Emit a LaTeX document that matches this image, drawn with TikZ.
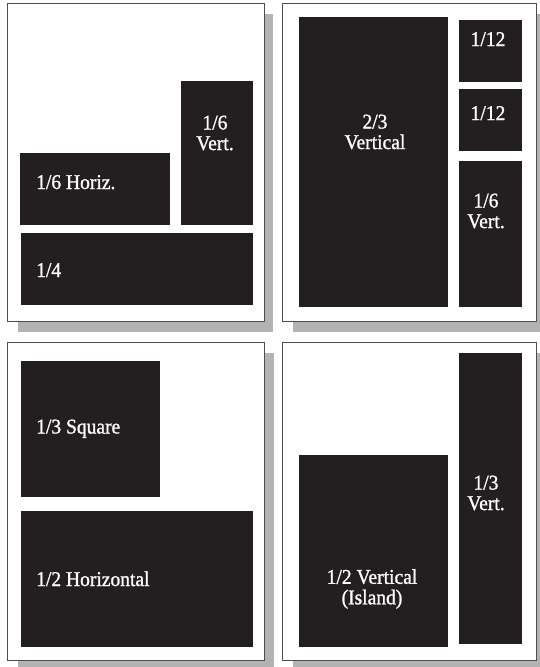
\documentclass[tikz,border=0pt]{standalone}
\usepackage{fontspec}
\setmainfont{Liberation Serif}[FakeStretch=0.93,FakeBold=1.1]
\usepackage{tikz}

\definecolor{inkblack}{HTML}{231F20}
\definecolor{shadowgray}{HTML}{B3B3B3}
\definecolor{edgegray}{HTML}{4D4D4D}

\begin{document}
\begin{tikzpicture}[x=1pt,y=-1pt,
    shadowbox/.style={fill=shadowgray},
    page/.style={fill=white,draw=edgegray,line width=1pt},
    block/.style={fill=inkblack},
    lbl/.style={text=white,font=\fontsize{21}{20.5}\selectfont,align=center,inner sep=0pt}]
    \useasboundingbox (0,0) rectangle (540,667);
    \clip (0,0) rectangle (540,667);

    % Shadows
    \fill[shadowbox] (18,14) rectangle (273,332);
    \fill[shadowbox] (293,14) rectangle (547,332);
    \fill[shadowbox] (18,353) rectangle (274,671);
    \fill[shadowbox] (293,353) rectangle (547,671);

    % Pages
    \draw[page] (7,3.5) rectangle (264,321);
    \draw[page] (282,3.5) rectangle (536.5,321);
    \draw[page] (7,342.5) rectangle (264,660);
    \draw[page] (282,342.5) rectangle (536.5,660);

    % Top left page
    \fill[block] (181,81) rectangle (253,225);
    \fill[block] (20,153) rectangle (170,225);
    \fill[block] (21,233) rectangle (253,305);
    \node[lbl] (vertA) at (215,133) {1/6\\Vert.};
    \node[lbl,anchor=base west] (horizA) at (36,189) {1/6 Horiz.};
    \node[lbl,anchor=base west] (quarter) at (36,277) {1/4};

    % Top right page
    \fill[block] (298.5,17) rectangle (448,307);
    \fill[block] (458.5,20) rectangle (521.5,81.5);
    \fill[block] (458.5,89) rectangle (521.5,150.5);
    \fill[block] (458.5,161) rectangle (521.5,307);
    \node[lbl] (twothirds) at (375,132) {2/3\\Vertical};
    \node[lbl,anchor=base] (twelfthA) at (488,46) {1/12};
    \node[lbl,anchor=base] (twelfthB) at (488,120) {1/12};
    \node[lbl] (vertB) at (486,211) {1/6\\Vert.};

    % Bottom left page
    \fill[block] (21,361) rectangle (160,496.5);
    \fill[block] (21,511) rectangle (253,646.5);
    \node[lbl,anchor=base west] (square) at (36,433.5) {1/3 Square};
    \node[lbl,anchor=base west] (halfH) at (36,586) {1/2 Horizontal};

    % Bottom right page
    \fill[block] (298.5,455) rectangle (448,646.5);
    \fill[block] (458.5,352.5) rectangle (521.5,644);
    \node[lbl] (island) at (372,589) {1/2 Vertical\\(Island)};
    \node[lbl] (third) at (486,493) {1/3\\Vert.};
\end{tikzpicture}
\end{document}
